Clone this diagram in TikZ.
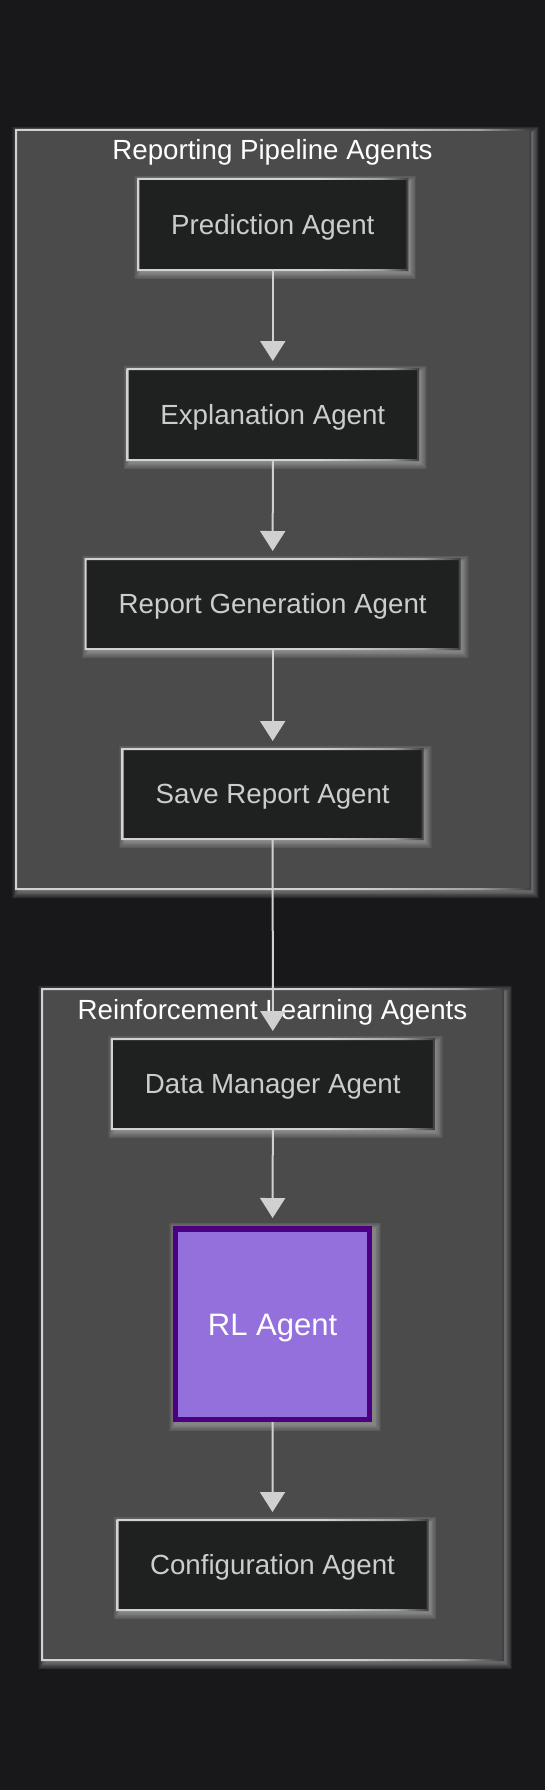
\documentclass[tikz,border=0pt]{standalone}
\usepackage{fontspec}
\setmainfont{Liberation Sans}
\usetikzlibrary{arrows.meta}
\definecolor{pagebg}{HTML}{18181B}
\definecolor{clusterfill}{HTML}{4A4B4A}
\definecolor{agentfill}{HTML}{1F2020}
\definecolor{edgelight}{HTML}{D2D2D2}
\definecolor{edgemid}{HTML}{A0A0A0}
\definecolor{edgedark}{HTML}{3E3E3E}
\definecolor{agenttext}{HTML}{CCCCCC}
\definecolor{linecol}{HTML}{D0D0D0}
\definecolor{glowcol}{HTML}{E8E8E8}
\definecolor{rlfill}{HTML}{9370DB}
\definecolor{rlborder}{HTML}{4B0082}
\pgfdeclarehorizontalshading{edgeshade}{100bp}{color(0bp)=(edgelight); color(25bp)=(edgelight); color(58bp)=(edgelight); color(70bp)=(edgemid); color(75bp)=(edgedark); color(100bp)=(edgedark)}
\pgfdeclarelayer{glowzero}
\pgfdeclarelayer{clusterlayer}
\pgfdeclarelayer{glowone}
\pgfsetlayers{glowzero,clusterlayer,glowone,main}
\newcommand{\haloof}[2][0]{\foreach \r in {0,...,8}{\fill[glowcol,opacity=0.055] ([shift={(2.5-\r*0.8-#1,-3+\r*0.8+#1)}]#2.north west) rectangle ([shift={(2.5+\r*0.8+#1,-3-\r*0.8-#1)}]#2.south east);}}
\newcommand{\rimof}[1]{\shade[shading=edgeshade, even odd rule] ([shift={(-1,1)}]#1.north west) rectangle ([shift={(1,-1)}]#1.south east) ([shift={(1,-1)}]#1.north west) rectangle ([shift={(-1,1)}]#1.south east);}
\tikzset{
  agent/.style={fill=agentfill, text=agenttext, font=\fontsize{27.7}{33}\selectfont, text height=19.8pt, text depth=0pt, minimum height=90pt, inner sep=0pt, outer sep=0pt},
  cluster/.style={fill=clusterfill, inner sep=0pt, outer sep=0pt},
  ctitle/.style={text=white, font=\fontsize{27.7}{33}\selectfont, anchor=base, inner sep=0pt},
  rlbox/.style={fill=rlfill, draw=rlborder, line width=5.5pt, text=white, font=\fontsize{31}{37}\selectfont, text height=22.2pt, text depth=0pt, inner sep=0pt, outer sep=0pt},
  flow/.style={draw=linecol, line width=2pt, -{Triangle[width=25pt,length=20pt,color=linecol]}, shorten >=8pt}
}
\begin{document}
\begin{tikzpicture}[x=1pt,y=1pt]
\useasboundingbox (0,0) rectangle (545,-1790);
\begin{pgfonlayer}{glowzero}
\fill[pagebg] (0,0) rectangle (545,-1790);
\end{pgfonlayer}
% clusters
\begin{pgfonlayer}{clusterlayer}
\node[cluster, minimum width=514pt, minimum height=759pt] (c1) at (273,-509.5) {};
\rimof{c1}
\node[cluster, minimum width=461pt, minimum height=671pt] (c2) at (272.7,-1324.5) {};
\rimof{c2}
\end{pgfonlayer}
\begin{pgfonlayer}{glowzero}
\haloof{c1}
\haloof{c2}
\end{pgfonlayer}
\node[ctitle] (t1) at (272.5,-160) {Reporting Pipeline Agents};
\node[ctitle] (t2) at (272.5,-1019) {Reinforcement Learning Agents};
% agents
\node[agent, minimum width=269pt, minimum height=91pt] (pred) at (272.8,-224.5) {Prediction Agent};
\node[agent, minimum width=290.5pt, minimum height=91pt] (expl) at (272.8,-414.5) {Explanation Agent};
\node[agent, minimum width=374pt] (rgen) at (272.7,-604) {Report Generation Agent};
\node[agent, minimum width=300pt] (save) at (272.7,-794) {Save Report Agent};
\node[agent, minimum width=322pt] (dm) at (272.8,-1084) {Data Manager Agent};
\node[rlbox, minimum width=194pt, minimum height=190.5pt] (rl) at (272.6,-1324) {RL Agent};
\node[agent, minimum width=310pt] (cfg) at (272.5,-1565) {Configuration Agent};
\foreach \n in {pred,expl,rgen,save,dm,cfg}{\rimof{\n}}
\begin{pgfonlayer}{glowone}
\foreach \n in {pred,expl,rgen,save,dm,cfg}{\haloof{\n}}
\haloof[2.75]{rl}
\end{pgfonlayer}
% connectors
\draw[flow] (pred.south) -- (expl.north);
\draw[flow] (expl.south) -- (rgen.north);
\draw[flow] (rgen.south) -- (save.north);
\draw[flow] (save.south) -- (dm.north);
\draw[flow] (dm.south) -- ([yshift=2.75pt]rl.north);
\draw[flow] ([yshift=-2.75pt]rl.south) -- (cfg.north);
\end{tikzpicture}
\end{document}
